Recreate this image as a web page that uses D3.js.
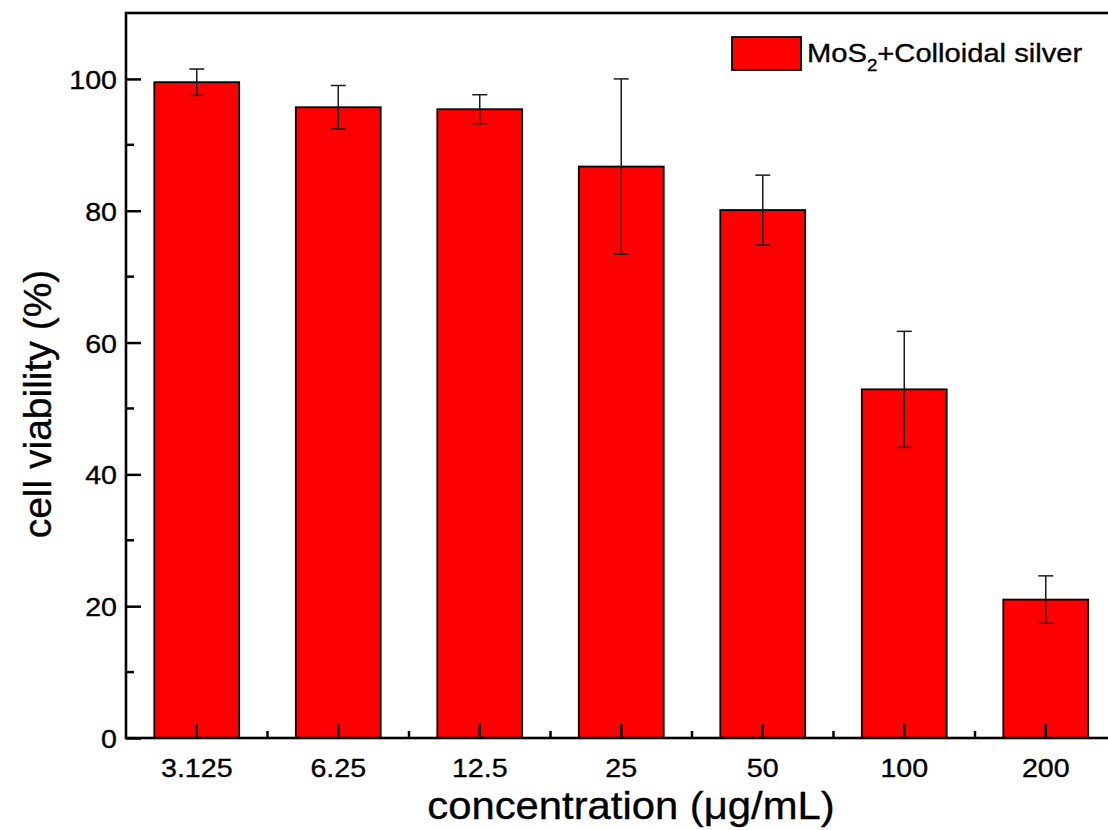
<!DOCTYPE html>
<html>
<head>
<meta charset="utf-8">
<script src="https://cdn.jsdelivr.net/npm/d3@7"></script>
<style>
  body { margin: 0; background: #fff; }
  text { font-family: Arial, "Liberation Sans", sans-serif; fill: #000; stroke: #000; stroke-width: 0.35px; }
</style>
</head>
<body>
<div id="chart"></div>
<script>
const width = 1108;
const height = 830;

// data
const categories = ["3.125", "6.25", "12.5", "25", "50", "100", "200"];
const viability = [99.5, 95.7, 95.4, 86.7, 80.1, 52.9, 21.0];
const errors = [2.0, 3.3, 2.2, 13.3, 5.3, 8.8, 3.6];
const yMajorTicks = [0, 20, 40, 60, 80, 100];
const yMinorTicks = [10, 30, 50, 70, 90];
const seriesName = ["MoS", "2", "+Colloidal silver"];

const margin = { left: 126, top: 13, bottom: 738, right: 1116.5 };
const SX = 1.1; // the source picture is stretched sideways a little

const svg = d3.select("#chart")
    .append("svg")
    .attr("width", width)
    .attr("height", height);

const x = d3.scaleBand()
    .domain(categories)
    .range([margin.left, margin.right])
    .paddingInner(0.4)
    .paddingOuter(0.2);

const y = d3.scaleLinear()
    .domain([0, 110])
    .range([margin.bottom, margin.top]);

// bars
svg.append("g").selectAll("rect")
    .data(categories)
    .join("rect")
    .attr("x", d => x(d))
    .attr("y", (d, i) => y(viability[i]))
    .attr("width", x.bandwidth())
    .attr("height", (d, i) => y(0) - y(viability[i]))
    .attr("fill", "#ff0000")
    .attr("stroke", "#000")
    .attr("stroke-width", 1.8);

// error bars
const err = svg.append("g")
    .attr("stroke", "#1a1a1a")
    .attr("stroke-width", 1.5)
    .selectAll("g")
    .data(categories)
    .join("g");
const cx = d => x(d) + x.bandwidth() / 2;
err.append("line")
    .attr("x1", cx).attr("x2", cx)
    .attr("y1", (d, i) => y(viability[i] + errors[i]))
    .attr("y2", (d, i) => y(viability[i] - errors[i]));
err.append("line")
    .attr("x1", d => cx(d) - 7.5).attr("x2", d => cx(d) + 7.5)
    .attr("y1", (d, i) => y(viability[i] + errors[i]))
    .attr("y2", (d, i) => y(viability[i] + errors[i]));
err.append("line")
    .attr("x1", d => cx(d) - 7.5).attr("x2", d => cx(d) + 7.5)
    .attr("y1", (d, i) => y(viability[i] - errors[i]))
    .attr("y2", (d, i) => y(viability[i] - errors[i]));

// y axis (ticks point inward)
const yAxis = svg.append("g")
    .attr("transform", `translate(${margin.left},0)`)
    .call(d3.axisLeft(y).tickValues(yMajorTicks).tickSizeInner(-15).tickSizeOuter(0).tickPadding(9));
yAxis.select(".domain").remove();
yAxis.selectAll(".tick line").attr("stroke-width", 2.5);
yAxis.selectAll(".tick text")
    .attr("font-size", 26)
    .attr("font-family", null)
    .attr("dy", null)
    .attr("x", 0)
    .attr("transform", "translate(-9,9.5) scale(" + SX + ",1)");

svg.append("g").selectAll("line")
    .data(yMinorTicks)
    .join("line")
    .attr("x1", margin.left).attr("x2", margin.left + 8)
    .attr("y1", d => y(d)).attr("y2", d => y(d))
    .attr("stroke", "#000").attr("stroke-width", 2.5);

// x axis
const xAxis = svg.append("g")
    .attr("transform", `translate(0,${margin.bottom})`)
    .call(d3.axisBottom(x).tickSizeInner(-14).tickSizeOuter(0));
xAxis.select(".domain").remove();
xAxis.selectAll(".tick line").attr("stroke-width", 2.5);
xAxis.selectAll(".tick text")
    .attr("font-size", 26)
    .attr("font-family", null)
    .attr("dy", null)
    .attr("y", 0)
    .attr("transform", "translate(0,39) scale(" + SX + ",1)");

const step = x.step();
svg.append("g").selectAll("line")
    .data(categories)
    .join("line")
    .attr("x1", d => cx(d) + step / 2).attr("x2", d => cx(d) + step / 2)
    .attr("y1", margin.bottom).attr("y2", margin.bottom - 7)
    .attr("stroke", "#000").attr("stroke-width", 2.5);

// frame
svg.append("rect")
    .attr("x", margin.left)
    .attr("y", margin.top)
    .attr("width", margin.right - margin.left)
    .attr("height", margin.bottom - margin.top)
    .attr("fill", "none")
    .attr("stroke", "#000")
    .attr("stroke-width", 2.6);

// axis titles
svg.append("text")
    .attr("transform", "translate(631,819) scale(1.1,1)")
    .attr("text-anchor", "middle")
    .attr("font-size", 38)
    .text("concentration (\u03bcg/mL)");

svg.append("text")
    .attr("transform", "translate(51,404) rotate(-90)")
    .attr("text-anchor", "middle")
    .attr("font-size", 39)
    .text("cell viability (%)");

// legend
svg.append("rect")
    .attr("x", 732).attr("y", 37)
    .attr("width", 69).attr("height", 33)
    .attr("fill", "#ff0000")
    .attr("stroke", "#000")
    .attr("stroke-width", 1.8);

const legendText = svg.append("text")
    .attr("transform", "translate(807,62) scale(" + SX + ",1)")
    .attr("font-size", 26.5);
legendText.append("tspan").text(seriesName[0]);
legendText.append("tspan").attr("font-size", 17).attr("dy", 9).text(seriesName[1]);
legendText.append("tspan").attr("dy", -9).text(seriesName[2]);
</script>
</body>
</html>
